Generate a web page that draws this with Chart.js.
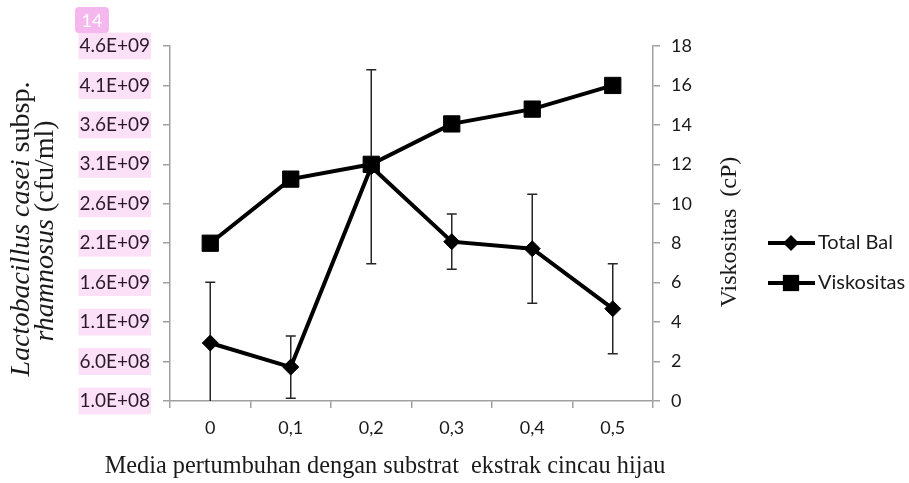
<!DOCTYPE html>
<html>
<head>
<meta charset="utf-8">
<script src="https://cdn.jsdelivr.net/npm/chart.js@4.4.1/dist/chart.umd.min.js"></script>
<style>
  html, body { margin: 0; padding: 0; background: #fff; }
  #wrap { width: 909px; height: 483px; }
</style>
</head>
<body>
<div id="wrap"><canvas id="chart" width="909" height="483"></canvas></div>
<script>
// 資料
const categories = ['0', '0,1', '0,2', '0,3', '0,4', '0,5'];
const totalBal = [8.35e8, 5.3e8, 3.07e9, 2.12e9, 2.03e9, 1.27e9];
const totalBalErr = [7.7e8, 3.95e8, 1.23e9, 3.5e8, 6.9e8, 5.7e8];
const viskositas = [8, 11.25, 12, 14.05, 14.8, 16];
const leftTicks = ['1.0E+08', '6.0E+08', '1.1E+09', '1.6E+09', '2.1E+09', '2.6E+09',
  '3.1E+09', '3.6E+09', '4.1E+09', '4.6E+09'];
const rightTicks = ['0', '2', '4', '6', '8', '10', '12', '14', '16', '18'];

const sans = 'Lato';
const serif = '"Liberation Serif"';
const axisGray = '#a0a0a0';

// 誤差線
const errorBars = {
  id: 'errorBars',
  beforeDatasetsDraw(chart) {
    const ctx = chart.ctx;
    const y = chart.scales.yL;
    const meta = chart.getDatasetMeta(0);
    ctx.save();
    ctx.strokeStyle = '#262626';
    ctx.lineWidth = 1.5;
    meta.data.forEach((pt, i) => {
      const v = totalBal[i], e = totalBalErr[i];
      const hiV = Math.min(v + e, y.max), loV = Math.max(v - e, y.min);
      const top = y.getPixelForValue(hiV), bot = y.getPixelForValue(loV);
      ctx.beginPath();
      ctx.moveTo(pt.x, top); ctx.lineTo(pt.x, bot);
      if (hiV === v + e) { ctx.moveTo(pt.x - 5, top); ctx.lineTo(pt.x + 5, top); }
      if (loV === v - e) { ctx.moveTo(pt.x - 5, bot); ctx.lineTo(pt.x + 5, bot); }
      ctx.stroke();
    });
    ctx.restore();
  }
};

// 軸標題、圖例、頁碼
function drawRich(ctx, parts, size) {
  let w = 0;
  parts.forEach(p => {
    ctx.font = `${p[1] ? 'italic ' : ''}${size}px ${serif}`;
    w += ctx.measureText(p[0]).width;
  });
  let x = -w / 2;
  parts.forEach(p => {
    ctx.font = `${p[1] ? 'italic ' : ''}${size}px ${serif}`;
    ctx.fillText(p[0], x, 0);
    x += ctx.measureText(p[0]).width;
  });
}

const decorations = {
  id: 'decorations',
  afterDraw(chart) {
    const ctx = chart.ctx;
    ctx.save();
    ctx.fillStyle = '#1a1a1a';
    ctx.textBaseline = 'middle';
    ctx.textAlign = 'left';

    // 左軸標題 (兩行)
    ctx.save();
    ctx.translate(22, 229);
    ctx.rotate(-Math.PI / 2);
    drawRich(ctx, [['Lactobacillus casei', true], [' subsp.', false]], 28);
    ctx.restore();
    ctx.save();
    ctx.translate(46, 231);
    ctx.rotate(-Math.PI / 2);
    drawRich(ctx, [['rhamnosus', true], [' (cfu/ml)', false]], 28);
    ctx.restore();

    // 右軸標題
    ctx.save();
    ctx.translate(730, 232);
    ctx.rotate(-Math.PI / 2);
    drawRich(ctx, [['Viskositas  (cP)', false]], 24);
    ctx.restore();

    // X 軸標題
    ctx.save();
    ctx.translate(385, 467);
    drawRich(ctx, [['Media pertumbuhan dengan substrat  ekstrak cincau hijau', false]], 24.3);
    ctx.restore();

    // 圖例
    const legendY = [243, 283];
    chart.data.datasets.forEach((ds, i) => {
      const yy = legendY[i];
      ctx.strokeStyle = '#000';
      ctx.lineWidth = 4;
      ctx.beginPath();
      ctx.moveTo(768, yy); ctx.lineTo(815, yy);
      ctx.stroke();
      ctx.fillStyle = '#000';
      Chart.helpers.drawPoint(ctx, { pointStyle: ds.pointStyle, radius: ds.pointRadius, borderWidth: 0 }, 791, yy);
      ctx.fillStyle = '#1a1a1a';
      ctx.font = `20px ${sans}`;
      ctx.fillText(ds.label, 818, yy);
    });

    // 頁碼
    ctx.fillStyle = '#f4b8ee';
    ctx.beginPath();
    ctx.roundRect(75, 7, 34, 26, 4);
    ctx.fill();
    ctx.fillStyle = '#fff';
    ctx.textAlign = 'center';
    ctx.font = `18px ${sans}`;
    ctx.fillText('14', 92, 21);
    ctx.restore();
  }
};

const ctx = document.getElementById('chart').getContext('2d');
new Chart(ctx, {
  type: 'line',
  data: {
    labels: categories,
    datasets: [
      {
        label: 'Total Bal',
        data: totalBal,
        yAxisID: 'yL',
        borderColor: '#000',
        backgroundColor: '#000',
        borderWidth: 4,
        pointStyle: 'rectRot',
        pointRadius: 8,
        pointBorderWidth: 1,
        tension: 0,
        order: 1
      },
      {
        label: 'Viskositas',
        data: viskositas,
        yAxisID: 'yR',
        borderColor: '#000',
        backgroundColor: '#000',
        borderWidth: 4,
        pointStyle: 'rect',
        pointRadius: 11.5,
        pointBorderWidth: 1,
        tension: 0,
        order: 0
      }
    ]
  },
  options: {
    responsive: false,
    animation: false,
    devicePixelRatio: 1,
    clip: false,
    layout: { padding: { top: 46, left: 0, right: 0, bottom: 0 } },
    plugins: {
      legend: { display: false },
      tooltip: { enabled: false }
    },
    scales: {
      x: {
        offset: true,
        afterFit: s => { s.height = 82; },
        grid: { drawOnChartArea: false, color: axisGray, lineWidth: 1.5, tickLength: 7, offset: true },
        border: { color: axisGray, width: 1.5 },
        ticks: { color: '#1a1a1a', font: { family: sans, size: 18 }, padding: 9 }
      },
      yL: {
        position: 'left',
        min: 1e8,
        max: 4.6e9,
        afterFit: s => { s.width = 170; },
        afterBuildTicks: s => {
          s.ticks = leftTicks.map((t, i) => ({ value: 1e8 + i * 5e8 }));
        },
        grid: { drawOnChartArea: false, color: axisGray, lineWidth: 1.5, tickLength: 7 },
        border: { color: axisGray, width: 1.5 },
        ticks: {
          color: '#2a1a2a',
          font: { family: sans, size: 19 },
          padding: 13,
          callback: (v, i) => leftTicks[i],
          showLabelBackdrop: true,
          backdropColor: '#fbe0f8',
          backdropPadding: { top: 2, bottom: 2, left: 1, right: 1 }
        }
      },
      yR: {
        position: 'right',
        min: 0,
        max: 18,
        afterFit: s => { s.width = 256; },
        afterBuildTicks: s => {
          s.ticks = rightTicks.map(t => ({ value: Number(t) }));
        },
        grid: { drawOnChartArea: false, color: axisGray, lineWidth: 1.5, tickLength: 7 },
        border: { color: axisGray, width: 1.5 },
        ticks: {
          color: '#1a1a1a',
          font: { family: sans, size: 18 },
          padding: 11,
          callback: (v, i) => rightTicks[i]
        }
      }
    }
  },
  plugins: [errorBars, decorations]
});
</script>
</body>
</html>
